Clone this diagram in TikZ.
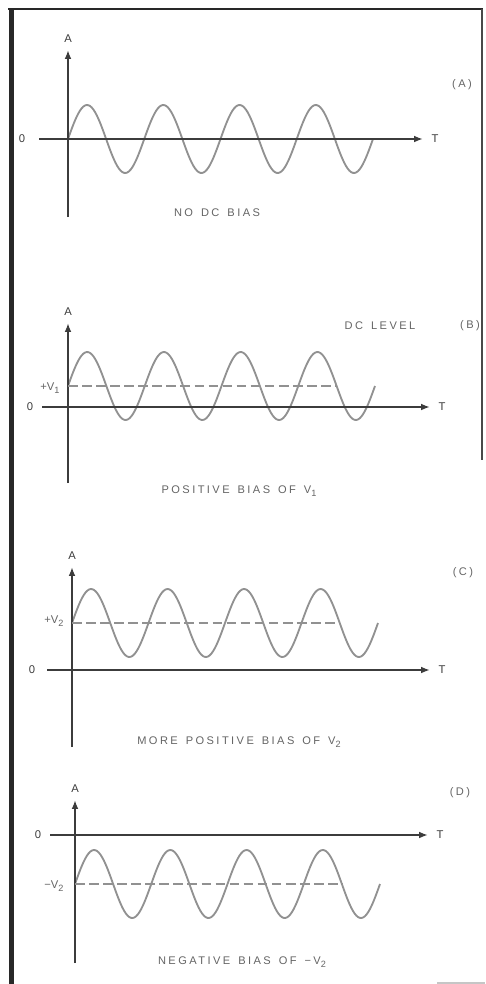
\documentclass[tikz,border=0pt]{standalone}
\usepackage{fontspec}
\setmainfont{Liberation Sans}
\newfontfamily\capfont[LetterSpace=22,WordSpace=1.45]{Liberation Sans}
\usetikzlibrary{arrows.meta,positioning}
\definecolor{bsAxis}{RGB}{60,60,60}
\definecolor{bsWave}{RGB}{145,145,145}
\definecolor{bsText}{RGB}{100,100,100}
\definecolor{bsFrame}{RGB}{40,40,40}
\newcommand{\lowsub}[1]{\raisebox{-0.55ex}{\fontsize{5.2}{5}\selectfont #1}}
\tikzset{
  bsaxis/.style={-{Latex[length=5pt,width=3.8pt]},line width=1pt,bsAxis},
  bswave/.style={line width=1.05pt,bsWave},
  bsdc/.style={dash pattern=on 5.5pt off 2.5pt,line width=0.75pt,bsWave},
  bslbl/.style={font=\fontsize{6.4}{7}\selectfont,text=bsAxis,inner sep=0pt},
  bscap/.style={font=\capfont\fontsize{6.3}{7}\selectfont,text=bsText,inner sep=0pt},
}

\begin{document}
\begin{tikzpicture}[x=0.02cm,y=-0.02cm]
\useasboundingbox (0,0) rectangle (485,984);

% =================================================================
% frame
% =================================================================
\draw[bsFrame, line width=1.7pt] (8,9) -- (483,9);
\draw[bsFrame, line width=2.8pt] (11.5,8) -- (11.5,984);
\draw[bsFrame!85, line width=1pt] (482,9) -- (482,460);
\draw[gray!45, line width=1pt] (437,983) -- (485,983);

% =================================================================
% axes and waves, one panel per row
% =================================================================
\foreach \p/\ox/\oy/\yt/\yb/\xl/\xr/\cy/\we/\zx in {%
    a/68/139/50/217/39/423/139/373/22,
    b/68/407/323/483/42/430/386/375/30,
    c/72/670/567/747/47/430/623/378/32,
    d/75/835/800/963/50/428/884/380/38}{
  \coordinate (bot\p)   at (\ox,\yb);
  \coordinate (top\p)   at (\ox,\yt);
  \coordinate (left\p)  at (\xl,\oy);
  \coordinate (right\p) at (\xr,\oy);
  \node[bslbl] (amp\p)  at (\ox,\yt-11) {A};
  \node[bslbl] (time\p) at (\xr+12,\oy) {T};
  \node[bslbl] (zero\p) at (\zx,\oy)    {0};
  \draw[bswave] plot[domain=0:1440,samples=181,smooth]
    ({\ox+\x/1440*(\we-\ox)},{\cy-34*sin(\x)});
  \draw[bsaxis] (bot\p)  -- (top\p);
  \draw[bsaxis] (left\p) -- (right\p);
}

% =================================================================
% DC levels
% =================================================================
\node[bslbl, text=bsText] (lvb) at (50,388) {+V\lowsub{1}};
\node[bslbl, text=bsText] (lvc) at (54,621) {+V\lowsub{2}};
\node[bslbl, text=bsText] (lvd) at (54,886) {−V\lowsub{2}};

\coordinate (dcb0) at (68,386);  \coordinate (dcb1) at (337,386);
\coordinate (dcc0) at (72,623);  \coordinate (dcc1) at (340,623);
\coordinate (dcd0) at (75,884);  \coordinate (dcd1) at (343,884);
\foreach \p in {b,c,d}
  \draw[bsdc] (dc\p0) -- (dc\p1);

% =================================================================
% captions and tags
% =================================================================
\node[bscap] (capa) at (217,213) {NO DC BIAS};
\node[bscap] (capb) at (239,491) {POSITIVE BIAS OF V\lowsub{1}};
\node[bscap] (capc) at (239,742) {MORE POSITIVE BIAS OF V\lowsub{2}};
\node[bscap] (capd) at (242,962) {NEGATIVE BIAS OF −V\lowsub{2}};

\node[bscap] (dclvl) at (380,326) {DC LEVEL};
\node[bscap] (taga) at (462,85)  {(A)};
\node[bscap] (tagb) at (470,326) {(B)};
\node[bscap] (tagc) at (463,573) {(C)};
\node[bscap] (tagd) at (460,793) {(D)};

\end{tikzpicture}
\end{document}
